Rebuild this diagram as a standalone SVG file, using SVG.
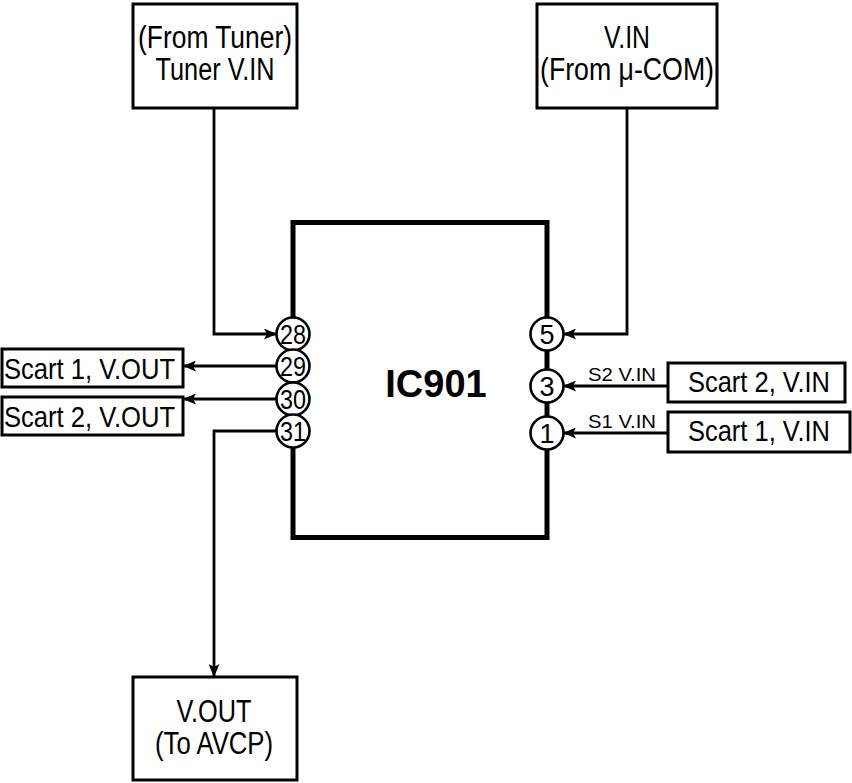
<svg xmlns="http://www.w3.org/2000/svg" width="852" height="783" viewBox="0 0 852 783">
<style>
.box{fill:#fff;stroke:#000;stroke-width:3}
.t{font-family:"Liberation Sans",Arial,sans-serif;font-size:31px;fill:#000}
.t2{font-family:"Liberation Sans",Arial,sans-serif;font-size:29px;fill:#000}
.c{text-anchor:middle}
.s{font-family:"Liberation Sans",Arial,sans-serif;font-size:19px;fill:#000}
.pin{fill:#fff;stroke:#000;stroke-width:2.6}
.pn{font-family:"Liberation Sans",Arial,sans-serif;font-size:27px;fill:#000;text-anchor:middle}
.w{fill:none;stroke:#000;stroke-width:2.8}
</style>
<defs>
<marker id="ah" markerUnits="userSpaceOnUse" markerWidth="13" markerHeight="11" refX="13" refY="5.5" orient="auto">
<path d="M0,0 L13,5.5 L0,11 L3,5.5 z" fill="#000"/>
</marker>
</defs>
<rect width="852" height="783" fill="#fff"/>
<g id="connectors">
<path class="w" d="M214,108 V334 H277" marker-end="url(#ah)"/>
<path class="w" d="M627,108 V334 H563" marker-end="url(#ah)"/>
<path class="w" d="M277,366 H183" marker-end="url(#ah)"/>
<path class="w" d="M277,399 H183" marker-end="url(#ah)"/>
<path class="w" d="M277,431 H214 V677" marker-end="url(#ah)"/>
<path class="w" d="M668,386 H563" marker-end="url(#ah)"/>
<path class="w" d="M668,433 H563" marker-end="url(#ah)"/>
<text class="s" x="588" y="381" textLength="68" lengthAdjust="spacingAndGlyphs">S2 V.IN</text>
<text class="s" x="588" y="428" textLength="68" lengthAdjust="spacingAndGlyphs">S1 V.IN</text>
</g>
<g id="tuner">
<rect class="box" x="133" y="4" width="164" height="104"/>
<text class="t c" x="215" y="48" textLength="154" lengthAdjust="spacingAndGlyphs">(From Tuner)</text>
<text class="t c" x="215" y="80" textLength="119" lengthAdjust="spacingAndGlyphs">Tuner V.IN</text>
</g>
<g id="vin-ucom">
<rect class="box" x="537" y="4" width="180" height="104"/>
<text class="t c" x="627" y="48" textLength="46" lengthAdjust="spacingAndGlyphs">V.IN</text>
<text class="t c" x="627" y="80" textLength="174" lengthAdjust="spacingAndGlyphs">(From μ-COM)</text>
</g>
<g id="vout-avcp">
<rect class="box" x="133" y="677" width="164" height="103"/>
<text class="t c" x="214" y="722" textLength="75" lengthAdjust="spacingAndGlyphs">V.OUT</text>
<text class="t c" x="214" y="754" textLength="118" lengthAdjust="spacingAndGlyphs">(To AVCP)</text>
</g>
<g id="scart1-vout">
<rect class="box" x="2" y="349" width="181" height="38"/>
<text class="t2" x="4" y="379" textLength="171" lengthAdjust="spacingAndGlyphs">Scart 1, V.OUT</text>
</g>
<g id="scart2-vout">
<rect class="box" x="2" y="397" width="181" height="38"/>
<text class="t2" x="4" y="427" textLength="171" lengthAdjust="spacingAndGlyphs">Scart 2, V.OUT</text>
</g>
<g id="scart2-vin">
<rect class="box" x="668" y="363" width="177" height="39"/>
<text class="t2" x="688" y="392" textLength="142" lengthAdjust="spacingAndGlyphs">Scart 2, V.IN</text>
</g>
<g id="scart1-vin">
<rect class="box" x="668" y="412" width="182" height="40"/>
<text class="t2" x="688" y="441" textLength="142" lengthAdjust="spacingAndGlyphs">Scart 1, V.IN</text>
</g>
<g id="ic901">
<rect x="293" y="222.5" width="254" height="315" fill="#fff" stroke="#000" stroke-width="5"/>
<text x="436" y="397" font-family="Liberation Sans,Arial,sans-serif" font-size="38" font-weight="bold" text-anchor="middle">IC901</text>
<circle class="pin" cx="293" cy="334" r="16.5"/><text class="pn" x="293" y="344" textLength="26" lengthAdjust="spacingAndGlyphs">28</text>
<circle class="pin" cx="293" cy="366" r="16.5"/><text class="pn" x="293" y="376" textLength="26" lengthAdjust="spacingAndGlyphs">29</text>
<circle class="pin" cx="293" cy="399" r="16.5"/><text class="pn" x="293" y="409" textLength="26" lengthAdjust="spacingAndGlyphs">30</text>
<circle class="pin" cx="293" cy="431" r="16.5"/><text class="pn" x="293" y="441" textLength="26" lengthAdjust="spacingAndGlyphs">31</text>
<circle class="pin" cx="547" cy="334" r="16.5"/><text class="pn" x="547" y="344">5</text>
<circle class="pin" cx="547" cy="386" r="16.5"/><text class="pn" x="547" y="396">3</text>
<circle class="pin" cx="547" cy="433" r="16.5"/><text class="pn" x="547" y="443">1</text>
</g>
</svg>
